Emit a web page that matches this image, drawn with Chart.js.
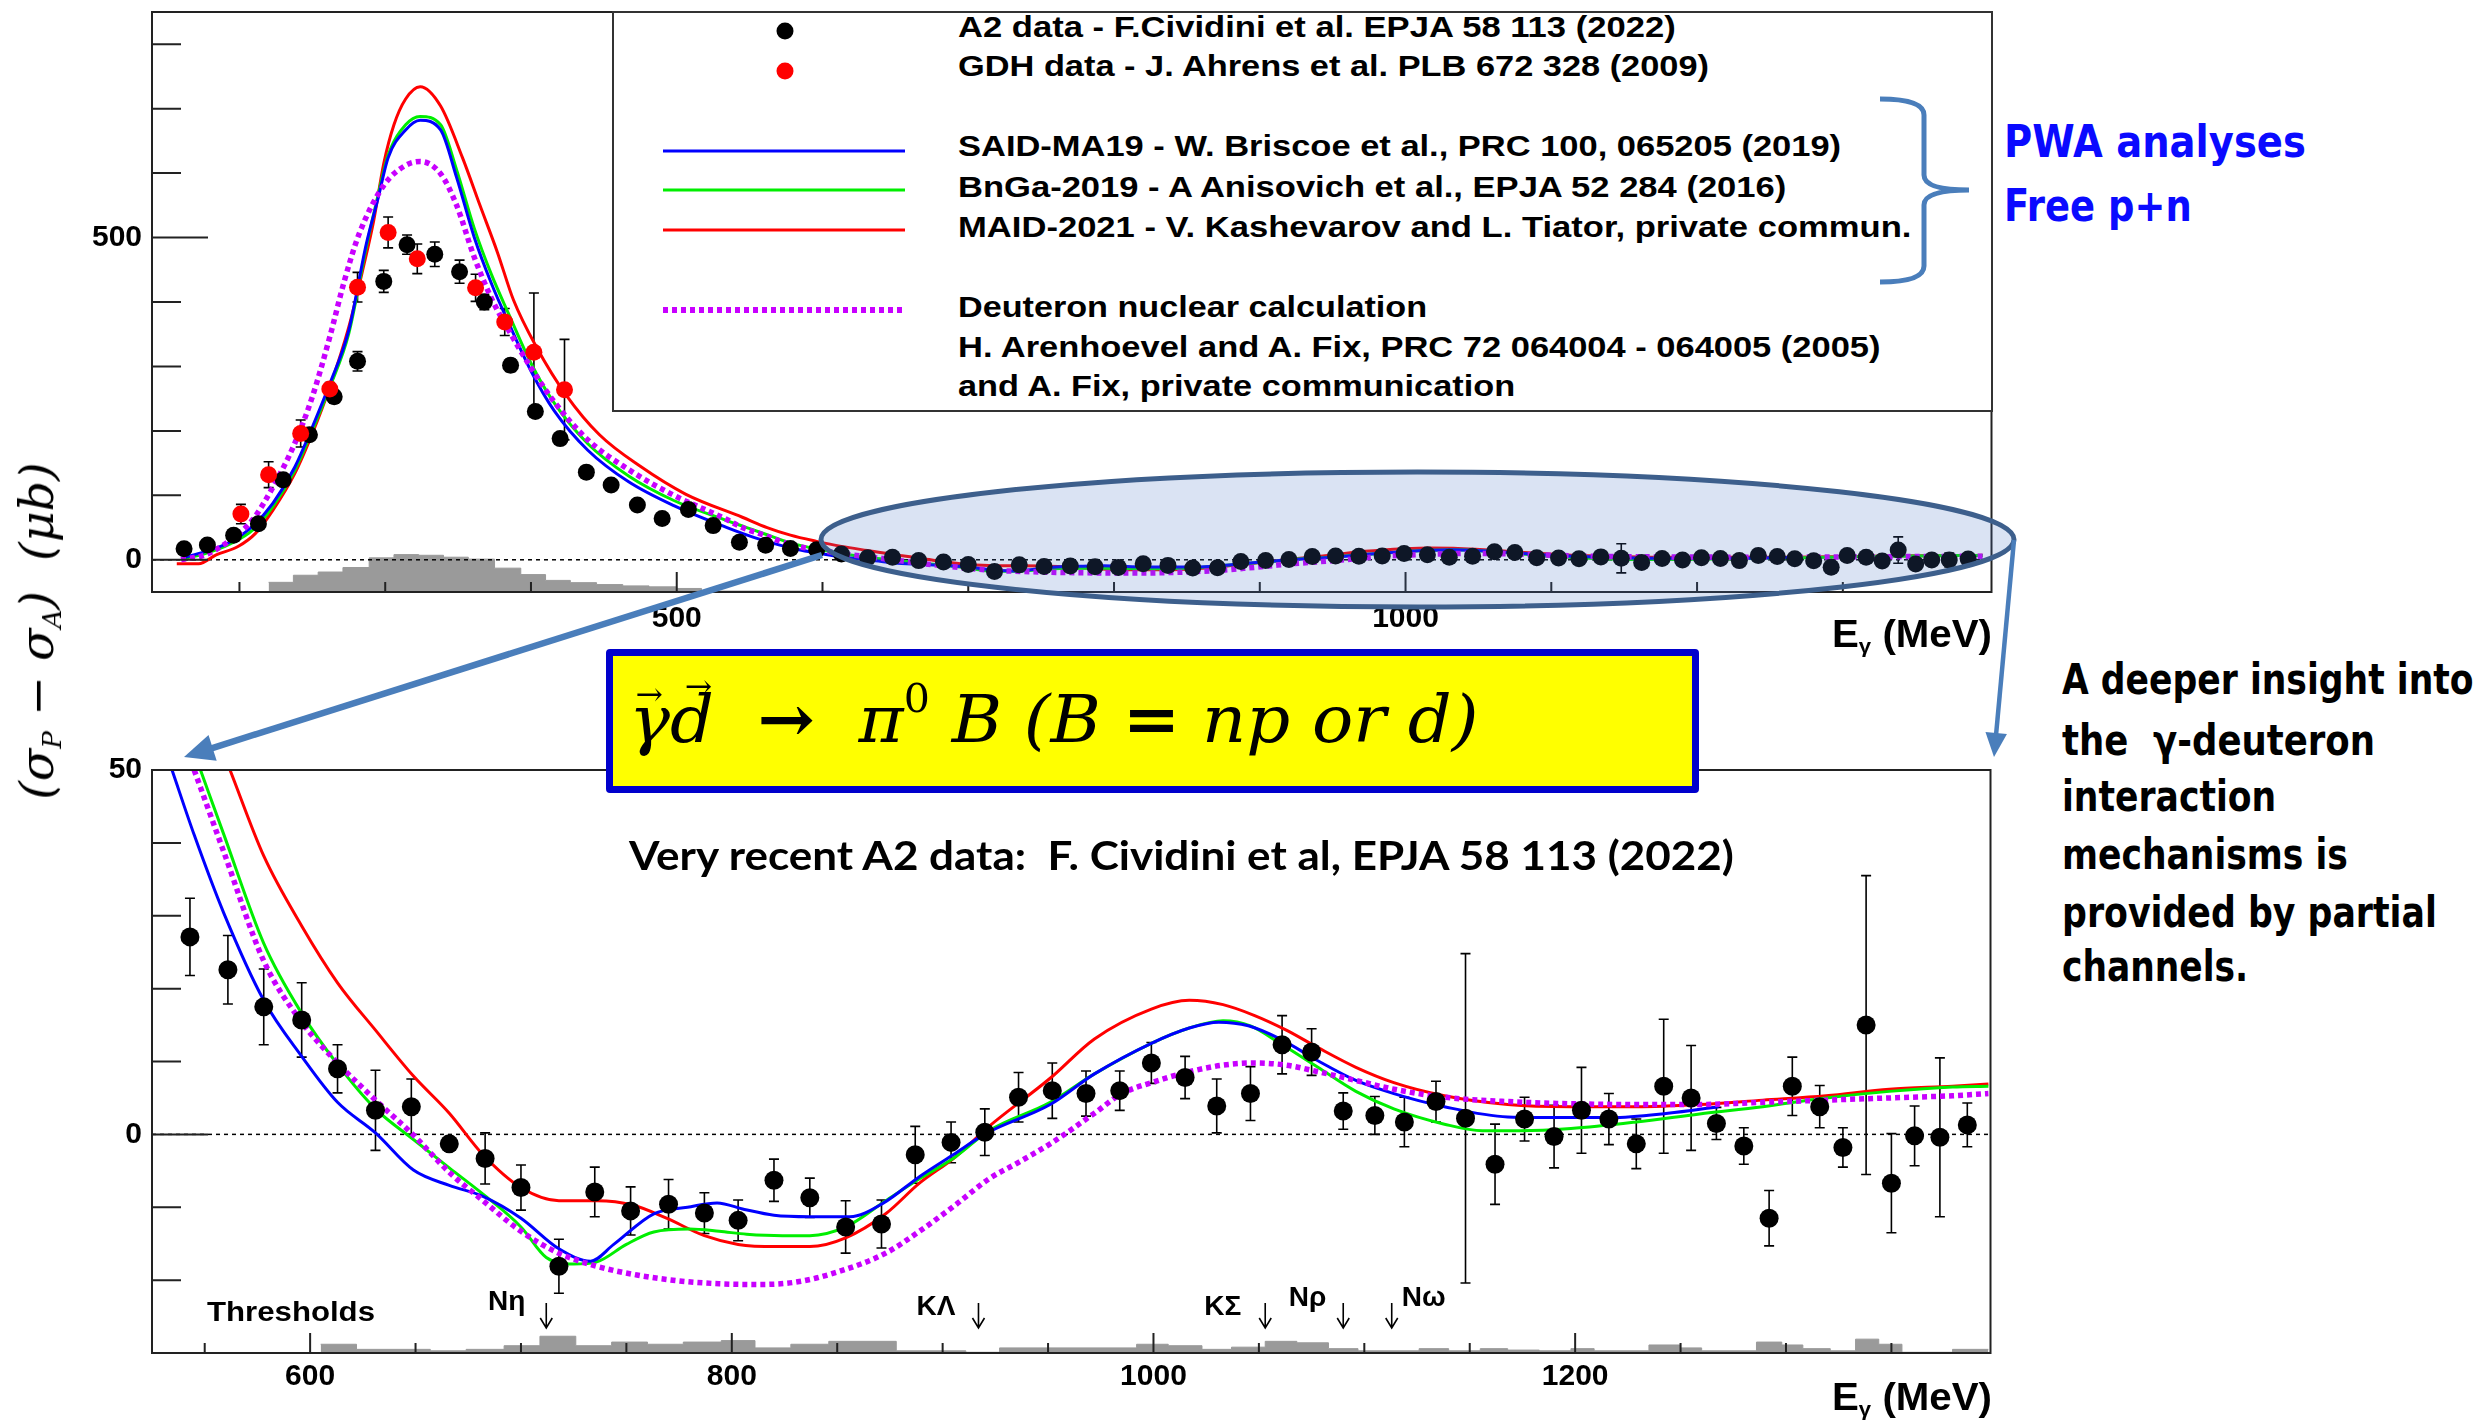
<!DOCTYPE html>
<html>
<head>
<meta charset="utf-8">
<title>Helicity difference for pi0 photoproduction on the deuteron</title>
<script src="https://cdn.jsdelivr.net/npm/chart.js@4.4.1/dist/chart.umd.min.js"></script>
<style>
  html, body { margin: 0; padding: 0; background: #fff; }
  #page { position: relative; width: 2483px; height: 1422px; overflow: hidden; background: #fff; }
  canvas { position: absolute; left: 0; }
  #topChart { top: 0; }
  #botChart { top: 690px; }
  .t { position: absolute; white-space: nowrap; line-height: 1; transform-origin: 0 50%; color: #000; }
  .root { font-family: 'Liberation Sans', Arial, sans-serif; font-weight: bold; }
  .root28 { font-family: 'Liberation Sans', Arial, sans-serif; font-weight: bold; font-size: 29px; }
  .legbox { position: absolute; left: 612px; top: 11px; width: 1381px; height: 401px; box-sizing: border-box; border: 2px solid #333; background: #fff; }
  .mark { position: absolute; width: 17px; height: 17px; border-radius: 50%; transform: translate(-50%, -50%); }
  .sample { position: absolute; left: 663px; width: 242px; height: 3px; transform: translateY(-50%); }
  .side { font-family: 'DejaVu Sans', Verdana, sans-serif; font-weight: bold; }
  #eqbox { position: absolute; left: 606px; top: 649px; width: 1093px; height: 144px; box-sizing: border-box;
           border: 7px solid #0000cc; background: #ffff00; border-radius: 4px; }
  #eq { font-family: 'DejaVu Serif', serif; font-style: italic; font-size: 66px; }
  #eq .up { font-style: normal; font-weight: bold; }
  #eq .v { position: relative; display: inline-block; }
  #eq .v::before { content: '\2192'; position: absolute; font-style: normal; font-size: 0.48em; left: 0.2em; top: -0.25em; }
  #eq .v.d::before { left: 0.45em; top: -0.5em; }
  sub { font-size: 0.55em; vertical-align: -0.3em; line-height: 0; }
  sup { font-size: 0.6em; vertical-align: 0.75em; line-height: 0; font-style: normal; }
</style>
</head>
<body>
<div id="page">
  <canvas id="topChart" width="2000" height="660"></canvas>
  <canvas id="botChart" width="2000" height="732"></canvas>

  <!-- legend of the upper panel -->
  <div class="legbox"></div>
  <div class="mark" style="left:785px;top:31px;background:#000"></div>
  <div class="mark" style="left:785px;top:71px;background:#ff0000"></div>
  <div class="sample" style="top:151px;background:#0000ff"></div>
  <div class="sample" style="top:190px;background:#00ee00"></div>
  <div class="sample" style="top:230px;background:#ff0000"></div>
  <div class="sample" style="top:310px;height:6px;background:repeating-linear-gradient(90deg,#c800ff 0 5px,transparent 5px 9px)"></div>
  <div class="t root28" data-w="718" style="left:958px;top:13px">A2 data - F.Cividini et al. EPJA 58 113 (2022)</div>
  <div class="t root28" data-w="751" style="left:958px;top:52px">GDH data - J. Ahrens et al. PLB 672 328 (2009)</div>
  <div class="t root28" data-w="883" style="left:958px;top:132px">SAID-MA19 - W. Briscoe et al., PRC 100, 065205 (2019)</div>
  <div class="t root28" data-w="828" style="left:958px;top:173px">BnGa-2019 - A Anisovich et al., EPJA 52 284 (2016)</div>
  <div class="t root28" data-w="953" style="left:958px;top:213px">MAID-2021 - V. Kashevarov and L. Tiator, private commun.</div>
  <div class="t root28" data-w="469" style="left:958px;top:293px">Deuteron nuclear calculation</div>
  <div class="t root28" data-w="922" style="left:958px;top:333px">H. Arenhoevel and A. Fix, PRC 72 064004 - 064005 (2005)</div>
  <div class="t root28" data-w="557" style="left:958px;top:372px">and A. Fix, private communication</div>

  <!-- axis titles -->
  <div class="t root" data-w="160" style="left:1832px;top:615px;font-size:38px">E<sub>γ</sub> (MeV)</div>
  <div class="t root" data-w="160" style="left:1832px;top:1378px;font-size:38px">E<sub>γ</sub> (MeV)</div>
  <div class="t" data-w="337" data-base="translate(-50%,-50%) rotate(-90deg)"
       style="left:37px;top:631px;transform-origin:50% 50%;font:italic 46px 'DejaVu Serif',serif">(σ<sub>P</sub> − σ<sub>A</sub>)&nbsp;&nbsp;(μb)</div>

  <div class="t" data-w="1105" style="left:629px;top:831px;font:bold 40px Lato,'Open Sans',sans-serif">Very recent A2 data:&nbsp; F. Cividini et al, EPJA 58 113 (2022)</div>

  <!-- side notes -->
  <div class="t side" data-w="302" style="left:2004px;top:120px;font-size:44px;color:#0a0aff">PWA analyses</div>
  <div class="t side" data-w="188" style="left:2004px;top:184px;font-size:44px;color:#0a0aff">Free p+n</div>
  <div class="t side" data-w="412" style="left:2062px;top:658px;font-size:43px">A deeper insight into</div>
  <div class="t side" data-w="313" style="left:2062px;top:719px;font-size:43px">the&nbsp; γ-deuteron</div>
  <div class="t side" data-w="214" style="left:2062px;top:775px;font-size:43px">interaction</div>
  <div class="t side" data-w="286" style="left:2062px;top:833px;font-size:43px">mechanisms is</div>
  <div class="t side" data-w="375" style="left:2062px;top:891px;font-size:43px">provided by partial</div>
  <div class="t side" data-w="186" style="left:2062px;top:945px;font-size:43px">channels.</div>

  <svg id="ann" width="2483" height="1422" style="position:absolute;left:0;top:0;pointer-events:none">
    <ellipse cx="1417.5" cy="539.5" rx="596.5" ry="67.5" fill="rgba(68,114,196,0.2)" stroke="#3d5f8c" stroke-width="5"/>
    <path d="M1880 99 Q1924 99 1924 115 L1924 175 Q1924 190 1969 190 Q1924 190 1924 205 L1924 266 Q1924 282 1880 282"
          fill="none" stroke="#4a7ebb" stroke-width="5"/>
  </svg>

  <div id="eqbox"></div>
  <div class="t" id="eq" data-w="850" style="left:629px;top:686px"><span class="v">γ</span><span class="v d">d</span>&nbsp;&nbsp;<span class="up">→</span>&nbsp;&nbsp;π<sup>0</sup>&nbsp;B&nbsp;(B&nbsp;<span class="up">=</span>&nbsp;np or d)</div>
</div>

<script>
// ---------------- data ----------------

// A2 points below 540 MeV (upper panel only)
const a2LowE = [162, 178, 196, 213, 230, 248, 265, 281, 299, 315, 334, 351, 368, 386, 403, 420, 438, 455, 473, 490, 508, 525];
const a2LowV = [17, 23, 38, 56, 124, 194, 253, 308, 432, 489, 474, 447, 400, 302, 230, 188, 136, 116, 85, 64, 78, 53];
const a2LowErr = [4, 4, 5, 6, 8, 9, 10, 15, 17, 15, 19, 18, 12, 10, 8, 7, 6, 6, 5, 5, 5, 5];

// A2 points above 540 MeV (both panels)
const a2E = [543, 561, 578, 596, 613, 631, 648, 666, 683, 700, 718, 735, 752, 770, 787, 803, 820, 837, 854, 871,
             887, 904, 920, 936, 952, 968, 984, 999, 1015, 1030, 1046, 1061, 1075, 1090, 1105, 1119, 1134, 1148, 1162, 1176,
             1190, 1203, 1216, 1229, 1242, 1255, 1267, 1280, 1292, 1303, 1316, 1327, 1338, 1350, 1361, 1373, 1386];
const a2V = [27.1, 22.6, 17.5, 15.7, 9.0, 3.3, 3.8, -1.3, -3.3, -7.3, -18.1, -7.9, -10.5, -9.6, -10.8, -11.8, -6.3, -8.7, -12.7, -12.3,
             -2.8, -1.1, 0.3, 5.1, 6.0, 5.6, 6.0, 9.8, 7.8, 3.9, 5.6, 12.3, 11.3, 3.2, 2.6, 1.7, 4.5, 2.2, -4.1, 2.1,
             -0.3, 3.3, 2.1, -1.3, 6.6, 5.0, 1.5, -1.6, -11.5, 6.6, 3.8, -1.8, 15.0, -6.7, -0.2, -0.4, 1.3];
const a2Err = [5.3, 4.7, 5.2, 5.1, 3.3, 5.5, 3.8, 1.0, 3.5, 3.1, 3.7, 3.4, 3.3, 3.4, 2.8, 2.8, 2.9, 2.7, 3.6, 3.3,
               3.9, 2.8, 3.2, 3.4, 3.8, 3.1, 2.7, 2.8, 2.9, 3.7, 3.7, 4.0, 3.2, 2.5, 2.6, 3.4, 2.8, 22.6, 5.5, 3.0,
               4.3, 5.9, 3.5, 3.4, 9.2, 7.2, 2.2, 2.5, 3.8, 4.0, 2.9, 2.7, 20.5, 6.8, 4.1, 10.9, 3.0];

// GDH points
const gdhE = [201, 220, 242, 262, 281, 302, 322, 362, 382, 402, 423];
const gdhV = [71, 132, 196, 265, 423, 508, 467, 422, 369, 322, 264];
const gdhErr = [15, 20, 21, 10, 23, 24, 23, 21, 21, 92, 78];

// model curves [E (MeV), value]; *Low = part drawn only in the upper panel
const saidLow = [[160, 2.6], [177, 13], [194, 28], [209, 52], [223, 88], [238, 144], [250, 206], [262, 273], [275, 356], [287, 490],
  [295, 560], [302, 624], [314, 667], [324, 682], [338, 667], [349, 593], [361, 501], [373, 428], [385, 366], [400, 293],
  [416, 231], [439, 170], [467, 121], [498, 84]];
const said = [[534.5, 50], [545, 41.1], [559, 30.4], [578, 18.4], [596, 10.7], [613, 4.4], [631, 0.2], [649, -4.9], [666, -7.0],
  [682, -8.5], [700, -11.5], [718, -15.7], [733, -17.4], [744, -15.1], [763, -10.9], [779, -10.0], [793, -9.4], [806, -10.3],
  [820, -11.1], [837, -11.3], [856, -11.3], [872, -9.4], [889, -5.8], [905, -2.8], [921, 0.2], [951, 4.1], [972, 8.3],
  [999, 12.5], [1017, 14.6], [1031, 15.4], [1045, 14.9], [1060, 13.1], [1078, 10.1], [1096, 7.4], [1114, 5.6], [1138, 3.8],
  [1168, 2.4], [1198, 2.3], [1217, 2.3], [1244, 2.9], [1268, 3.8]];

const bngaLow = [[160, 1], [177, 10], [194, 25], [209, 46], [223, 83], [238, 139], [250, 201], [262, 268], [275, 351], [287, 485],
  [295, 565], [302, 628], [314, 675], [324, 688], [338, 675], [349, 605], [361, 515], [373, 442], [385, 380], [400, 305],
  [416, 243], [439, 180], [467, 130], [498, 92], [533, 62]];
const bnga = [[548, 50], [559, 41.2], [578, 26.2], [596, 16.6], [613, 9.6], [631, 3.5], [649, -0.7], [666, -4.6], [682, -8.2],
  [700, -12.7], [712, -16.9], [725, -17.8], [736, -17.5], [750, -15.1], [763, -13.4], [780, -13.0], [794, -13.3], [807, -13.7],
  [824, -13.9], [837, -13.9], [854, -12.7], [873, -9.1], [889, -6.1], [906, -3.1], [922, 0.5], [951, 4.4], [972, 8.3],
  [999, 12.5], [1017, 14.6], [1033, 15.6], [1046, 14.9], [1060, 12.5], [1078, 9.2], [1096, 5.9], [1114, 3.5], [1138, 1.4],
  [1156, 0.5], [1174, 0.5], [1198, 0.8], [1229, 1.7], [1259, 2.8], [1289, 3.8], [1319, 5.0], [1349, 5.9], [1379, 6.5], [1396, 6.6]];

const maidLow = [[157, -6], [172, -6], [184, 7.7], [199, 20.6], [211, 41], [223, 77], [238, 134], [250, 196], [262, 268], [275, 361],
  [285, 454], [292, 525], [299, 615], [306, 675], [314, 715], [324, 734], [338, 704], [353, 624], [365, 550], [377, 477],
  [388, 403], [404, 329], [424, 256], [447, 194], [475, 145], [506, 102], [545, 66]];
const maid = [[562, 50], [578, 38.2], [596, 28.6], [613, 20.8], [631, 14.3], [649, 8.0], [666, 2.9], [682, -2.8], [700, -7.3],
  [718, -9.1], [736, -9.1], [753, -9.7], [769, -11.5], [787, -13.9], [803, -15.1], [821, -15.4], [837, -15.4], [854, -14.2],
  [873, -10.9], [889, -6.7], [906, -3.1], [922, 1.1], [951, 7.7], [972, 13.1], [999, 17.2], [1017, 18.4], [1033, 17.8],
  [1048, 16.3], [1063, 14.3], [1078, 11.9], [1096, 9.2], [1114, 7.1], [1138, 5.3], [1168, 4.1], [1198, 3.8], [1229, 3.8],
  [1259, 4.1], [1289, 4.7], [1319, 5.3], [1349, 6.2], [1379, 6.6], [1396, 6.9]];

const deutLow = [[160, 0], [177, 8], [194, 31], [209, 62], [223, 113], [238, 181], [250, 253], [262, 346], [272, 433], [282, 505],
  [299, 581], [314, 612], [324, 618], [338, 599], [349, 550], [361, 470], [373, 405], [385, 355], [400, 298], [416, 245],
  [439, 186], [467, 140], [498, 100], [533, 64]];
const deut = [[545, 50], [559, 38.8], [578, 23.8], [596, 15.4], [613, 9.8], [631, 4.7], [649, -0.1], [666, -5.2], [682, -9.1],
  [700, -13.3], [718, -16.3], [736, -18.1], [755, -19.3], [775, -20.1], [794, -20.5], [813, -20.6], [832, -20.2], [851, -18.8],
  [873, -16.3], [889, -13.3], [906, -9.7], [922, -6.1], [935, -4.0], [951, -1.3], [972, 2.9], [985, 5.6], [999, 7.1],
  [1017, 8.6], [1033, 9.5], [1048, 9.8], [1063, 9.5], [1078, 8.6], [1096, 7.4], [1114, 6.2], [1138, 5.1], [1168, 4.5],
  [1198, 4.2], [1229, 4.1], [1259, 4.1], [1289, 4.4], [1319, 4.7], [1349, 5.0], [1379, 5.3], [1396, 5.6]];

// grey histograms: bin edges and bin heights above the axis floor
const topHistEdges = [220, 237, 254, 271, 289, 306, 323, 340, 357, 375, 393, 410, 427, 445, 463, 481, 500, 517, 605];
const topHistHeights = [15, 26, 31, 38, 53, 58, 57, 54, 51, 37, 27, 18, 14.5, 11.5, 9.5, 8, 5.5, 1.5];
const botHistEdges = [605, 622, 657, 674, 692, 709, 726, 743, 760, 777, 795, 811, 828, 846, 878, 911, 927, 992, 1007, 1023,
  1037, 1053, 1068, 1083, 1097, 1126, 1140, 1155, 1168, 1183, 1198, 1209, 1235, 1250, 1260, 1286, 1298, 1308, 1321, 1333,
  1344, 1355, 1379, 1396];
const botHistHeights = [1.2, 0.5, 0.3, 0.5, 1.0, 2.3, 1.0, 1.5, 1.2, 1.5, 1.7, 0.7, 1.2, 1.6, 0.3, 0.1, 0.7, 1.2, 1.0, 0.5,
  0.8, 1.6, 1.4, 0.6, 0.3, 0.6, 0.3, 0.6, 0.4, 0.3, 0.6, 0.3, 1.1, 0.7, 0.3, 1.5, 1.1, 0.6, 0.3, 1.9,
  1.2, 0.1, 0.5];

// production thresholds marked in the lower panel
const thresholdE = [712, 917, 1053, 1090, 1113];
const thresholdNames = ['Nη', 'KΛ', 'KΣ', 'Nρ', 'Nω'];

// axis ticks
const topXLabels = [500, 1000];
const topXMinor = [200, 300, 400, 600, 700, 800, 900, 1100, 1200, 1300];
const topYLabels = [0, 500];
const topYMinor = [100, 200, 300, 400, 600, 700, 800];
const botXLabels = [600, 800, 1000, 1200];
const botXMinor = [550, 650, 700, 750, 850, 900, 950, 1050, 1100, 1150, 1250, 1300, 1350];
const botYLabels = [0, 50];
const botYMinor = [-20, -10, 10, 20, 30, 40];

const COLORS = { said: '#0000ff', bnga: '#00ee00', maid: '#ff0000', deut: '#c800ff', a2: '#000000', gdh: '#ff0000', hist: '#9a9a9a' };

// ---------------- helpers ----------------
const pts = (E, V) => E.map((e, i) => ({ x: e, y: V[i] }));
const pairs = (arr) => arr.map(([x, y]) => ({ x, y }));
const histPts = (edges, heights, floor) =>
  edges.map((e, i) => ({ x: e, y: floor + heights[Math.min(i, heights.length - 1)] }));

function curve(label, data, color, dotted) {
  return {
    label, data,
    borderColor: color,
    borderWidth: dotted ? 5.5 : 3,
    borderDash: dotted ? [5, 4] : [],
    pointRadius: 0,
    fill: false,
    cubicInterpolationMode: 'monotone',
    order: dotted ? 2 : 3,
  };
}

function markers(label, data, errors, color, order, radius) {
  return {
    label, data, errors,
    showLine: false,
    pointRadius: radius,
    pointBackgroundColor: color,
    pointBorderColor: color,
    pointBorderWidth: 0,
    order,
  };
}

// bin i spans edges[i]..edges[i+1]; 'before' keeps the left value across the bin
function histogram(data) {
  return {
    label: 'hist', data, isHist: true,
    stepped: 'before',
    fill: 'start',
    backgroundColor: COLORS.hist,
    borderColor: COLORS.hist,
    borderWidth: 1,
    pointRadius: 0,
    order: 5,
  };
}

// ROOT-like frame, inward ticks, zero line, error bars and threshold arrows
function rootFrame(cfg) {
  return {
    id: 'rootFrame',
    afterDatasetDraw(chart, args) {
      if (!chart.data.datasets[args.index].isHist) return;
      const { ctx, chartArea: a, scales: { x, y } } = chart;
      ctx.save();
      const y0 = y.getPixelForValue(0);
      ctx.strokeStyle = '#000';
      ctx.lineWidth = 1.5;
      ctx.setLineDash([4, 4]);
      ctx.beginPath();
      ctx.moveTo(a.left, y0);
      ctx.lineTo(a.right, y0);
      ctx.stroke();
      ctx.setLineDash([]);
      ctx.lineWidth = 1.6;
      chart.data.datasets.forEach((ds) => {
        if (!ds.errors) return;
        ds.data.forEach((p, i) => {
          const e = ds.errors[i];
          const px = x.getPixelForValue(p.x);
          const yt = y.getPixelForValue(p.y + e);
          const yb = y.getPixelForValue(p.y - e);
          ctx.beginPath();
          ctx.moveTo(px, Math.max(yt, a.top));
          ctx.lineTo(px, Math.min(yb, a.bottom));
          if (yt > a.top) { ctx.moveTo(px - 5, yt); ctx.lineTo(px + 5, yt); }
          if (yb < a.bottom) { ctx.moveTo(px - 5, yb); ctx.lineTo(px + 5, yb); }
          ctx.stroke();
        });
      });
      ctx.restore();
    },
    afterDraw(chart) {
      const { ctx, chartArea: a, scales: { x, y } } = chart;
      ctx.save();
      ctx.strokeStyle = '#222';
      ctx.lineWidth = 2;
      ctx.strokeRect(a.left, a.top, a.right - a.left, a.bottom - a.top);
      ctx.beginPath();
      const xt = (vals, len) => vals.forEach((v) => {
        const px = x.getPixelForValue(v);
        ctx.moveTo(px, a.bottom); ctx.lineTo(px, a.bottom - len);
      });
      const yt = (vals, len) => vals.forEach((v) => {
        const py = y.getPixelForValue(v);
        ctx.moveTo(a.left, py); ctx.lineTo(a.left + len, py);
      });
      xt(cfg.xMinor, 10); xt(cfg.xLabels, 20);
      yt(cfg.yMinor, 29); yt(cfg.yLabels, 56);
      ctx.stroke();

      if (cfg.thresholds) {
        const fitText = (text, left, cy, size, w) => {
          ctx.font = `bold ${size}px "Liberation Sans", Arial, sans-serif`;
          const k = w ? w / ctx.measureText(text).width : 1;
          ctx.save();
          ctx.translate(left, cy + 0.36 * size);
          ctx.scale(k, 1);
          ctx.fillText(text, 0, 0);
          ctx.restore();
        };
        ctx.fillStyle = '#000';
        ctx.textBaseline = 'alphabetic';
        fitText('Thresholds', 207, a.bottom - 42, 28, 168);
        // label placement per threshold: [offset from arrow, cap-centre height above frame, side]
        const place = [[-21, 53, 'l'], [-23, 48, 'l'], [-24, 48, 'l'], [-17, 57, 'l'], [10, 57, 'r']];
        ctx.lineWidth = 1.6;
        ctx.strokeStyle = '#000';
        cfg.thresholds.forEach((e, i) => {
          const ax = x.getPixelForValue(e);
          const y1 = a.bottom - 50, y2 = a.bottom - 25;
          ctx.beginPath();
          ctx.moveTo(ax, y1); ctx.lineTo(ax, y2);
          ctx.moveTo(ax - 6, y2 - 10); ctx.lineTo(ax, y2); ctx.lineTo(ax + 6, y2 - 10);
          ctx.stroke();
          const [dx, h, side] = place[i];
          ctx.font = 'bold 28px "Liberation Sans", Arial, sans-serif';
          const w = ctx.measureText(cfg.thresholdNames[i]).width;
          const left = side === 'l' ? ax + dx - w : ax + dx;
          fitText(cfg.thresholdNames[i], left, a.bottom - h, 28, 0);
        });
      }
      ctx.restore();
    },
  };
}

const tickFont = { family: 'Liberation Sans', size: 30, weight: 'bold' };

function panel(canvasId, cfg) {
  return new Chart(document.getElementById(canvasId), {
    type: 'line',
    data: { datasets: cfg.datasets },
    options: {
      responsive: false,
      animation: false,
      events: [],
      layout: { padding: { left: 0, right: 8, top: cfg.padTop, bottom: 0 } },
      plugins: { legend: { display: false }, tooltip: { enabled: false } },
      scales: {
        x: {
          type: 'linear', min: cfg.xMin, max: cfg.xMax,
          grid: { display: false, drawTicks: false },
          border: { display: false },
          ticks: { color: '#000', font: tickFont, padding: cfg.xPad, maxRotation: 0, autoSkip: false, callback: (v) => String(v) },
          afterBuildTicks: (s) => { s.ticks = cfg.xLabels.map((v) => ({ value: v })); },
          afterFit: (s) => { s.height = cfg.xAxisHeight; s.paddingLeft = 0; s.paddingRight = 0; },
        },
        y: {
          type: 'linear', min: cfg.yMin, max: cfg.yMax,
          grid: { display: false, drawTicks: false },
          border: { display: false },
          ticks: { color: '#000', font: tickFont, padding: 10, autoSkip: false, callback: (v) => String(v) },
          afterBuildTicks: (s) => { s.ticks = cfg.yLabels.map((v) => ({ value: v })); },
          afterFit: (s) => { s.width = 152; s.paddingTop = 0; s.paddingBottom = 0; },
        },
      },
    },
    plugins: [rootFrame(cfg)],
  });
}

// ---------------- upper panel: full energy range ----------------
panel('topChart', {
  xMin: 140, xMax: 1402, yMin: -50, yMax: 850,
  padTop: 12, xAxisHeight: 68, xPad: 9,
  xLabels: topXLabels, xMinor: topXMinor, yLabels: topYLabels, yMinor: topYMinor,
  datasets: [
    markers('GDH data', pts(gdhE, gdhV), gdhErr, COLORS.gdh, 0, 8.5),
    markers('A2 data', pts(a2LowE.concat(a2E), a2LowV.concat(a2V)), a2LowErr.concat(a2Err), COLORS.a2, 1, 8.5),
    curve('Deuteron nuclear calculation', pairs(deutLow.concat(deut)), COLORS.deut, true),
    curve('SAID-MA19', pairs(saidLow.concat(said)), COLORS.said, false),
    curve('BnGa-2019', pairs(bngaLow.concat(bnga)), COLORS.bnga, false),
    curve('MAID-2021', pairs(maidLow.concat(maid)), COLORS.maid, false),
    histogram(histPts(topHistEdges, topHistHeights, -50)),
  ],
});

// ---------------- lower panel: 525-1400 MeV zoom ----------------
panel('botChart', {
  xMin: 525, xMax: 1397, yMin: -30, yMax: 50,
  padTop: 80, xAxisHeight: 69, xPad: 6,
  xLabels: botXLabels, xMinor: botXMinor, yLabels: botYLabels, yMinor: botYMinor,
  thresholds: thresholdE, thresholdNames,
  datasets: [
    markers('A2 data', pts(a2E, a2V), a2Err, COLORS.a2, 1, 9.5),
    curve('Deuteron nuclear calculation', pairs(deut), COLORS.deut, true),
    curve('SAID-MA19', pairs(said), COLORS.said, false),
    curve('BnGa-2019', pairs(bnga), COLORS.bnga, false),
    curve('MAID-2021', pairs(maid), COLORS.maid, false),
    histogram(histPts(botHistEdges, botHistHeights, -30)),
  ],
});

// ---------------- call-out arrows ----------------
function arrow(svg, x1, y1, x2, y2, width, head, color) {
  const len = Math.hypot(x2 - x1, y2 - y1);
  const ux = (x2 - x1) / len, uy = (y2 - y1) / len;
  const bx = x2 - ux * head, by = y2 - uy * head;
  const ns = 'http://www.w3.org/2000/svg';
  const line = document.createElementNS(ns, 'line');
  line.setAttribute('x1', x1); line.setAttribute('y1', y1);
  line.setAttribute('x2', bx + ux * 2); line.setAttribute('y2', by + uy * 2);
  line.setAttribute('stroke', color); line.setAttribute('stroke-width', width);
  svg.appendChild(line);
  const hw = head * 0.45;
  const poly = document.createElementNS(ns, 'polygon');
  poly.setAttribute('points', `${x2},${y2} ${bx - uy * hw},${by + ux * hw} ${bx + uy * hw},${by - ux * hw}`);
  poly.setAttribute('fill', color);
  svg.appendChild(poly);
}
const ann = document.getElementById('ann');
arrow(ann, 822, 555, 184, 757, 6.5, 30, '#4a7ebb');
arrow(ann, 2014, 540, 1994, 757, 4.5, 24, '#4a7ebb');

// ---------------- stretch text boxes to their measured widths ----------------
function fitTexts() {
  document.querySelectorAll('[data-w]').forEach((el) => {
    const base = el.dataset.base || '';
    el.style.transform = base;
    const k = Number(el.dataset.w) / el.offsetWidth;
    el.style.transform = `${base} scaleX(${k})`;
  });
}
fitTexts();
if (document.fonts && document.fonts.ready) document.fonts.ready.then(fitTexts);
</script>
</body>
</html>
